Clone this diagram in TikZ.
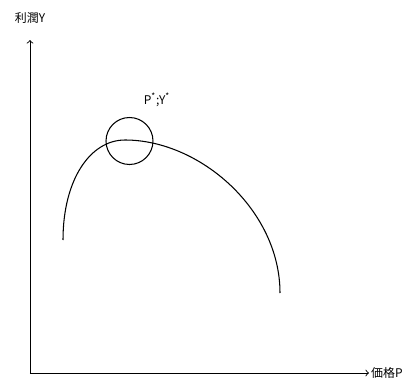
\documentclass[tikz,border=0pt]{standalone}
\usepackage{fontspec}
\setmainfont{Noto Sans CJK JP}
\begin{document}
\begin{tikzpicture}[x=0.02cm, y=-0.02cm, font=\fontsize{6.8}{8}\selectfont, >=to,
        axis/.style={draw, line width=0.5pt, ->},
        curve/.style={draw, line width=0.6pt},
        optcircle/.style={circle, draw, line width=0.6pt, minimum size=0.94cm, inner sep=0pt},
        axlabel/.style={inner sep=1pt}]
      \useasboundingbox (0,0) rectangle (407,379);
      \coordinate (origin) at (30,373);
      \coordinate (ytip) at (30,40);
      \coordinate (xtip) at (369,373);
      \coordinate (left) at (63,240);
      \coordinate (top) at (125,140);
      \coordinate (right) at (280,293);
      \node[axlabel] (ylabel) at (30,18) {利潤Y};
      \node[axlabel, anchor=west] (xlabel) at (xtip) {価格P};
      \node[optcircle] (opt) at (129.5,141) {};
      \node[axlabel] (optlabel) at (157,100) {P\textsuperscript{*};Y\textsuperscript{*}};
      \draw[axis] (origin) -- (ytip);
      \draw[axis] (origin) -- (xtip);
      \draw[curve] (left) .. controls (63,180) and (90,140) .. (top)
                          .. controls (200,140) and (280,210) .. (right);
    \end{tikzpicture}
\end{document}
